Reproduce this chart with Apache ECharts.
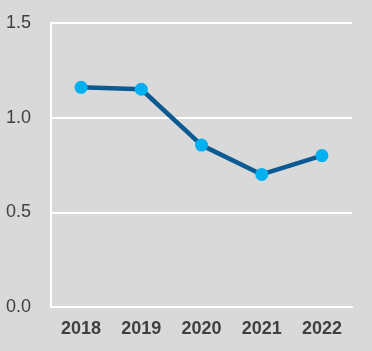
<!DOCTYPE html>
<html><head><meta charset="utf-8">
<script src="https://cdn.jsdelivr.net/npm/echarts@6/dist/echarts.min.js"></script>
<style>html,body{margin:0;padding:0;background:#d9d9d9;}#c{width:372px;height:351px;}</style>
</head><body><div id="c"></div>
<script>
const categories = ['2018', '2019', '2020', '2021', '2022'];
const values = [1.16, 1.15, 0.855, 0.70, 0.80];
const yTicks = [0, 0.5, 1.0, 1.5];

const chart = echarts.init(document.getElementById('c'));
chart.setOption({
  backgroundColor: '#d9d9d9',
  animation: false,
  grid: { left: 51, right: 20, top: 23, bottom: 44 },
  xAxis: {
    type: 'category',
    data: categories,
    boundaryGap: true,
    axisLine: { show: true, lineStyle: { color: '#ffffff', width: 2 } },
    axisTick: { show: false },
    axisLabel: { color: '#404040', fontFamily: 'Liberation Sans, Arial', fontWeight: 'bold', fontSize: 18, margin: 13 }
  },
  yAxis: {
    type: 'value',
    min: 0, max: 1.5, interval: 0.5,
    axisLine: { show: true, lineStyle: { color: '#ffffff', width: 2 } },
    axisTick: { show: false },
    splitLine: { show: true, lineStyle: { color: '#ffffff', width: 2 } },
    axisLabel: {
      color: '#404040', fontFamily: 'Liberation Sans, Arial', fontSize: 18,
      align: 'left', margin: 45,
      formatter: v => yTicks.includes(v) ? v.toFixed(1) : ''
    }
  },
  series: [{
    type: 'line',
    data: values,
    symbol: 'circle',
    symbolSize: 13,
    lineStyle: { color: '#0b5a92', width: 4.5 },
    itemStyle: { color: '#00b0f0' }
  }]
});
</script></body></html>
